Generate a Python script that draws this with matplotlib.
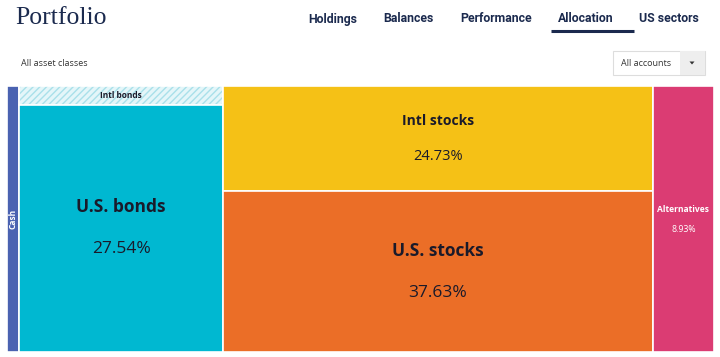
import matplotlib
matplotlib.use("Agg")
import matplotlib.pyplot as plt
from matplotlib.patches import Rectangle, Polygon
from matplotlib import font_manager

# ---- data ----
groups = ["Cash", "Bonds", "Stocks", "Alternatives"]
tile_names = ["Cash", "Intl bonds", "U.S. bonds", "Intl stocks", "U.S. stocks", "Alternatives"]
tile_group = ["Cash", "Bonds", "Bonds", "Stocks", "Stocks", "Alternatives"]
tile_values = [1.75, 2.10, 27.54, 24.73, 37.63, 8.93]
tile_labels = ["", "", "27.54%", "24.73%", "37.63%", "8.93%"]
tile_colors = ["#4a62b1", "#e4f6f9", "#00b8d1", "#f5c116", "#eb6e27", "#db3c73"]
nav_items = ["Holdings", "Balances", "Performance", "Allocation", "US sectors"]
nav_x = [333, 408.5, 496, 585.5, 669]

NAVY = "#1b2a4e"
TXT = "#1a1a2a"

names = {f.name for f in font_manager.fontManager.ttflist}
serif_family = "Liberation Serif" if "Liberation Serif" in names else "DejaVu Serif"

fig = plt.figure(figsize=(7.2, 3.57), dpi=100)
fig.patch.set_facecolor("white")

hx = fig.add_axes([0, 0, 1, 1])
hx.set_xlim(0, 720)
hx.set_ylim(357, 0)
hx.axis("off")

hx.text(15, 18, "Portfolio", fontsize=18.5, family=serif_family, color=NAVY,
        va="center", ha="left")
for name, x in zip(nav_items, nav_x):
    hx.text(x, 22.5, name, fontsize=8.8, family="Roboto", fontweight="bold",
            color=NAVY, va="baseline", ha="center")
hx.plot([551, 634], [30.5, 30.5], color=NAVY, lw=2.2, solid_capstyle="butt")

hx.text(21, 63, "All asset classes", fontsize=6.5, family="Open Sans",
        color="#333333", va="center", ha="left")
hx.add_patch(Rectangle((613, 51), 92, 24, facecolor="white", edgecolor="#dddddd", lw=0.8))
hx.add_patch(Rectangle((680, 51.4), 24.6, 23.2, facecolor="#eeeeee", edgecolor="none"))
hx.text(621, 63, "All accounts", fontsize=6.5, family="Open Sans",
        color="#333333", va="center", ha="left")
hx.add_patch(Polygon([[689.5, 61.5], [694.5, 61.5], [692, 64.5]], closed=True,
                     facecolor="#333333", edgecolor="none"))

# ---- treemap ----
L, R, T, B = 7, 714, 86, 352
ax = fig.add_axes([L / 720, (357 - B) / 357, (R - L) / 720, (B - T) / 357])
total = sum(tile_values)
ax.set_xlim(0, total)
ax.set_ylim(1, 0)
ax.axis("off")

group_sums = {g: sum(v for v, tg in zip(tile_values, tile_group) if tg == g) for g in groups}
x0 = 0.0
rects = {}
for g in groups:
    w = group_sums[g]
    y0 = 0.0
    for name, v, tg in zip(tile_names, tile_values, tile_group):
        if tg != g:
            continue
        h = v / w
        rects[name] = (x0, y0, w, h)
        y0 += h
    x0 += w

for name, lab, col in zip(tile_names, tile_labels, tile_colors):
    x, y, w, h = rects[name]
    if name == "Intl bonds":
        ax.add_patch(Rectangle((x, y), w, h, facecolor=col, edgecolor="#a9e0ea",
                               hatch="/////", lw=0))
        ax.add_patch(Rectangle((x, y), w, h, facecolor="none", edgecolor="white", lw=1.2))
    else:
        ax.add_patch(Rectangle((x, y), w, h, facecolor=col, edgecolor="white", lw=1.2))
    cx, cy = x + w / 2, y + h / 2
    if name == "Cash":
        ax.text(cx, cy, name, rotation=90, fontsize=6, family="Open Sans",
                fontweight="bold", color="white", ha="center", va="center")
    elif name == "Intl bonds":
        ax.text(cx, cy, name, fontsize=6, family="Open Sans", fontweight="bold",
                color=TXT, ha="center", va="center")
    elif name == "Alternatives":
        ax.text(cx, cy - 10 / 266, name, fontsize=6.1, family="Open Sans",
                fontweight="bold", color="white", ha="center", va="center")
        ax.text(cx, cy + 11 / 266, lab, fontsize=6.3, family="Open Sans",
                color="white", ha="center", va="center")
    else:
        d = 18 / 266 if name == "Intl stocks" else 21 / 266
        fs = 10 if name == "Intl stocks" else 12.5
        pfs = 10.5 if name == "Intl stocks" else 12.5
        ax.text(cx, cy - d, name, fontsize=fs, family="Open Sans", fontweight="bold",
                color=TXT, ha="center", va="center")
        ax.text(cx, cy + d, lab, fontsize=pfs, family="Open Sans", fontweight="normal",
                color=TXT, ha="center", va="center")

fig.savefig("out.png", dpi=100, facecolor="white")
